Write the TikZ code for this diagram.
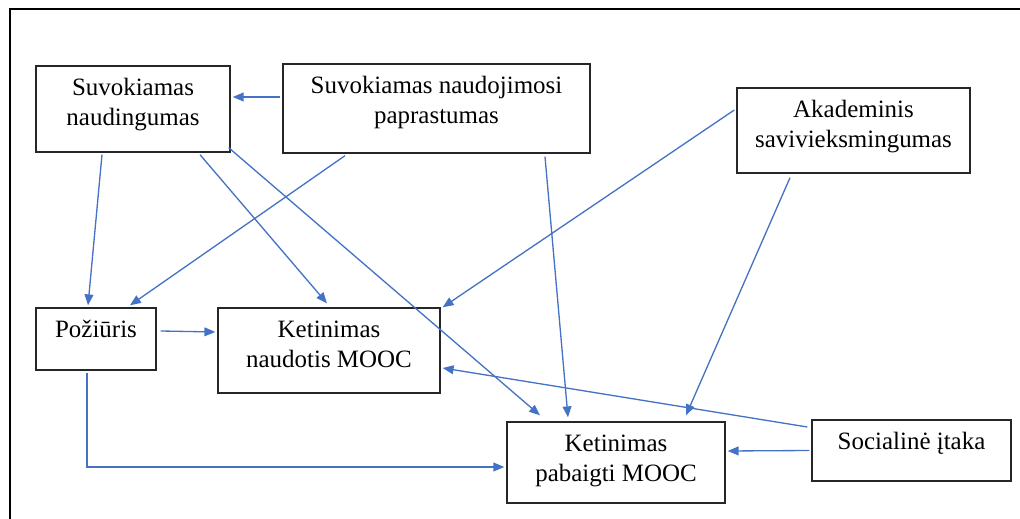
\documentclass[tikz,border=0pt]{standalone}
\usepackage{fontspec}
\setmainfont{Liberation Serif}
\usetikzlibrary{arrows.meta}
\usetikzlibrary{calc}
\definecolor{linkblue}{HTML}{4472C4}

\begin{document}
\begin{tikzpicture}[x=0.02cm,y=-0.02cm,
  box/.style 2 args={draw=black!85,line width=0.8pt,inner sep=0pt,font=\rmfamily\fontsize{14.2}{17}\selectfont,
    execute at begin node={\begin{minipage}[c][#2][t]{#1}\centering\vspace*{5pt}\strut},
    execute at end node={\end{minipage}}},
  link/.style={linkblue,line width=0.75pt,-{Triangle[length=6.2pt,width=5pt]}}]
\useasboundingbox (0,0) rectangle (1020,519);
\draw[black,line width=1.4pt] (10,519) -- (10,9) -- (1020,9);

\node[box={3.88cm}{1.72cm}] (pu) at (133,109) {Suvokiamas\\naudingumas};
\node[box={6.14cm}{1.78cm}] (peou) at (436.5,108.5) {Suvokiamas naudojimosi\\paprastumas};
\node[box={4.66cm}{1.70cm}] (ase) at (853.5,130.5) {Akademinis\\savivieksmingumas};
\node[box={2.40cm}{1.24cm}] (att) at (96,339) {Požiūris};
\node[box={4.44cm}{1.70cm}] (inu) at (329,350.5) {Ketinimas\\naudotis MOOC};
\node[box={4.36cm}{1.62cm}] (inc) at (616,462.5) {Ketinimas\\pabaigti MOOC};
\node[box={3.98cm}{1.22cm}] (si) at (911.5,450.5) {Socialinė įtaka};

\draw[link] ($(peou.west)+(-2,-11.5)$) -- ($(pu.east)+(2,-12)$);
\draw[link] ($(pu.south)+(-31,2)$) -- ($(att.north)+(-8,-2)$);
\draw[link] ($(peou.south)+(-91.5,2)$) -- ($(att.north)+(34,-2)$);
\draw[link] ($(pu.south)+(67,2)$) -- ($(inu.north)+(-2,-4)$);
\draw[link] ($(pu.south east)+(-2,-5)$) -- ($(inc.north)+(-76,-6)$);
\draw[link] ($(peou.south)+(108.5,3)$) -- ($(inc.north)+(-48,-4)$);
\draw[link] ($(ase.west)+(-2,-20.5)$) -- ($(inu.north east)+(2,0)$);
\draw[link] ($(ase.south)+(-63.5,4)$) -- ($(inc.north)+(70,-6)$);
\draw[link] ($(att.east)+(4,-8)$) -- ($(inu.west)+(-2,-18.5)$);
\draw[link] ($(att.south)+(-9,2)$) |- ($(inc.west)+(-2,4.5)$);
\draw[link] ($(si.west)+(-4,-23.5)$) -- ($(inu.east)+(2,17.5)$);
\draw[link] ($(si.west)+(-2,0)$) -- ($(inc.east)+(2,-11.5)$);

\end{tikzpicture}
\end{document}
